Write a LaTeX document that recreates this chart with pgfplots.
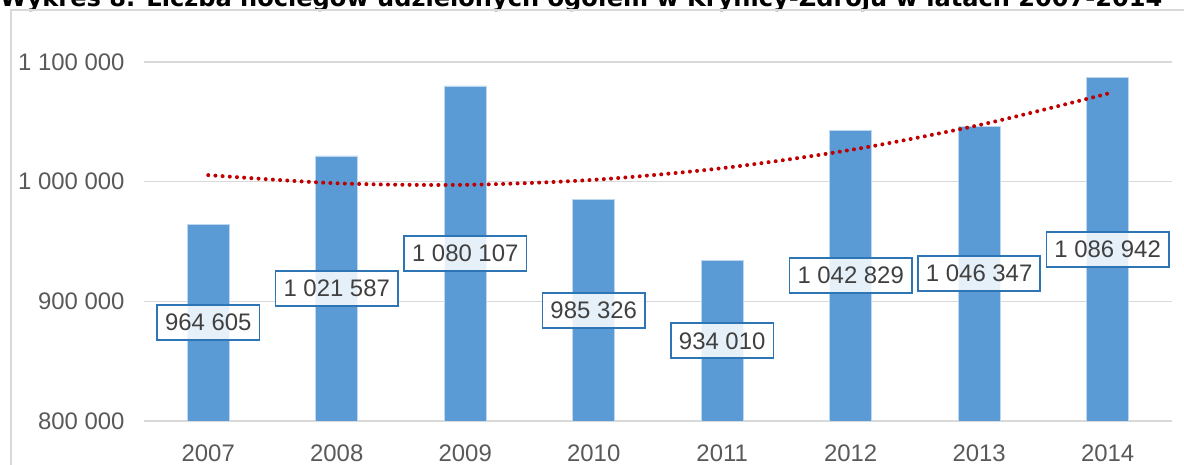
\documentclass[border=0pt]{standalone}
\usepackage{fontspec}
\setmainfont{Liberation Sans}
\newfontfamily\titlefont{DejaVu Sans}
\usepackage{graphicx}
\usepackage{pgfplots}
\usepackage{pgfplotstable}
\pgfplotsset{compat=1.18}
\definecolor{barblue}{HTML}{5B9BD5}
\definecolor{boxblue}{HTML}{2E75B6}
\definecolor{trendred}{HTML}{C00000}
\definecolor{gridgray}{HTML}{D9D9D9}
\definecolor{labtxt}{HTML}{404040}
\definecolor{ticktxt}{HTML}{595959}

\pgfplotstableread[col sep=comma]{
year,v,lab
2007,964605,964 605
2008,1021587,1 021 587
2009,1080107,1 080 107
2010,985326,985 326
2011,934010,934 010
2012,1042829,1 042 829
2013,1046347,1 046 347
2014,1086942,1 086 942
}\data

\pgfplotstableread{
year trend
2007 1005480
2008 998661
2009 997357
2010 1001568
2011 1011294
2012 1026536
2013 1047293
2014 1073564
}\trend

\begin{document}
\begin{tikzpicture}
\path[use as bounding box] (0bp,0bp) rectangle (1184bp,465bp);
\node[anchor=base west, inner sep=0pt] at (0bp,458bp)
  {\resizebox{1162bp}{!}{\titlefont\bfseries Wykres 8. Liczba noclegów udzielonych ogółem w Krynicy-Zdroju w latach 2007-2014}};
\draw[gridgray, line width=2bp] (11bp,-5bp) -- (11bp,455bp) -- (1190bp,455bp);
\begin{axis}[
  at={(144bp,44bp)}, anchor=south west,
  scale only axis, width=1028bp, height=359bp,
  xmin=2006.5, xmax=2014.5, ymin=800000, ymax=1100000,
  ytick={800000,900000,1000000,1100000},
  xtick={2007,2008,2009,2010,2011,2012,2013,2014},
  /pgf/number format/assume math mode=true,
  x tick label style={/pgf/number format/1000 sep={}, yshift=-20bp},
  y tick label style={/pgf/number format/.cd, fixed, precision=0, 1000 sep={\ }, /tikz/.cd, xshift=-16bp},
  scaled y ticks=false,
  ymajorgrids, grid style={gridgray, line width=1.3bp},
  axis line style={draw=none},
  major tick length=0pt,
  tick label style={font=\fontsize{24}{28}\selectfont, text=ticktxt},
]
\addplot[ybar, bar width=42bp, fill=barblue, draw=white!60!barblue, line width=0.6bp]
  table[x=year, y=v]{\data};
\addplot[trendred, line width=4bp, dash pattern=on 0pt off 7.2bp, line cap=round, smooth, mark=none]
  table[x=year, y=trend]{\trend};
\addplot[draw=none, mark=none, nodes near coords, point meta=explicit symbolic,
  every node near coord/.style={anchor=center, draw=boxblue, line width=1.8bp,
    fill=white, fill opacity=0.85, text opacity=1, text=labtxt,
    font=\fontsize{24}{28}\selectfont, inner xsep=8bp, minimum height=35bp}]
  table[x=year, y expr={(\thisrow{v}+800000)/2}, meta=lab]{\data};
\end{axis}
\end{tikzpicture}
\end{document}
